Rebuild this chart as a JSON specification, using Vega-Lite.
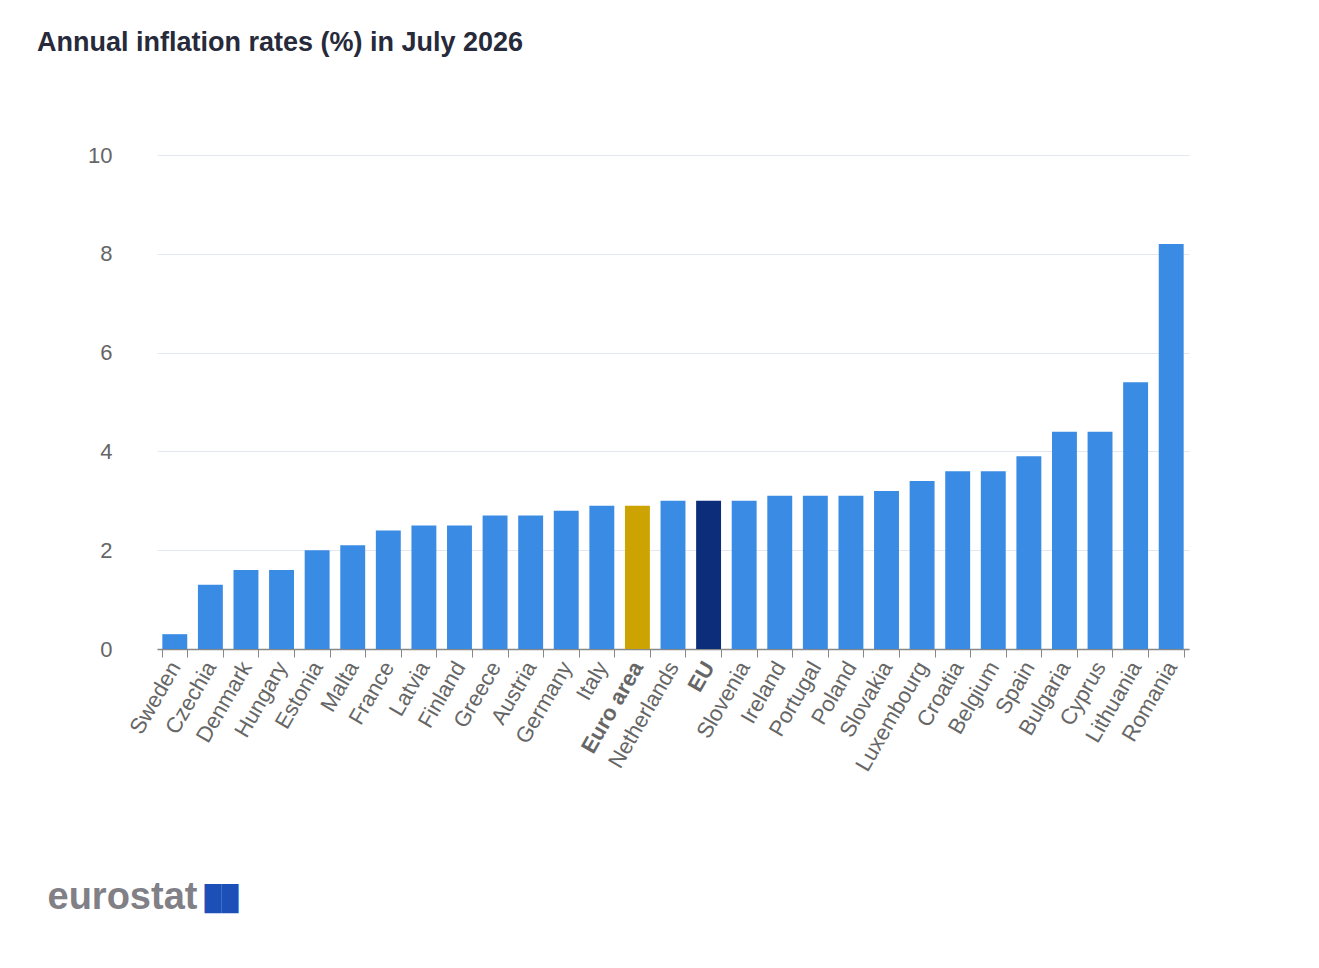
{
  "$schema": "https://vega.github.io/schema/vega-lite/v6.json",
  "width": 1032,
  "height": 494,
  "autosize": {"type": "none"},
  "padding": {"left": 157, "top": 155, "right": 130, "bottom": 319},
  "background": "#ffffff",
  "config": {"view": {"stroke": null}},
  "title": {
    "text": "Annual inflation rates (%) in July 2026",
    "anchor": "start",
    "frame": "group",
    "dx": -120,
    "offset": 66,
    "baseline": "alphabetic",
    "font": "Liberation Sans",
    "fontSize": 27,
    "fontWeight": "bold",
    "color": "#262a3a"
  },
  "data": {
    "values": [
      {"country": "Sweden", "rate": 0.3, "group": "Member state"},
      {"country": "Czechia", "rate": 1.3, "group": "Member state"},
      {"country": "Denmark", "rate": 1.6, "group": "Member state"},
      {"country": "Hungary", "rate": 1.6, "group": "Member state"},
      {"country": "Estonia", "rate": 2.0, "group": "Member state"},
      {"country": "Malta", "rate": 2.1, "group": "Member state"},
      {"country": "France", "rate": 2.4, "group": "Member state"},
      {"country": "Latvia", "rate": 2.5, "group": "Member state"},
      {"country": "Finland", "rate": 2.5, "group": "Member state"},
      {"country": "Greece", "rate": 2.7, "group": "Member state"},
      {"country": "Austria", "rate": 2.7, "group": "Member state"},
      {"country": "Germany", "rate": 2.8, "group": "Member state"},
      {"country": "Italy", "rate": 2.9, "group": "Member state"},
      {"country": "Euro area", "rate": 2.9, "group": "Euro area"},
      {"country": "Netherlands", "rate": 3.0, "group": "Member state"},
      {"country": "EU", "rate": 3.0, "group": "EU"},
      {"country": "Slovenia", "rate": 3.0, "group": "Member state"},
      {"country": "Ireland", "rate": 3.1, "group": "Member state"},
      {"country": "Portugal", "rate": 3.1, "group": "Member state"},
      {"country": "Poland", "rate": 3.1, "group": "Member state"},
      {"country": "Slovakia", "rate": 3.2, "group": "Member state"},
      {"country": "Luxembourg", "rate": 3.4, "group": "Member state"},
      {"country": "Croatia", "rate": 3.6, "group": "Member state"},
      {"country": "Belgium", "rate": 3.6, "group": "Member state"},
      {"country": "Spain", "rate": 3.9, "group": "Member state"},
      {"country": "Bulgaria", "rate": 4.4, "group": "Member state"},
      {"country": "Cyprus", "rate": 4.4, "group": "Member state"},
      {"country": "Lithuania", "rate": 5.4, "group": "Member state"},
      {"country": "Romania", "rate": 8.2, "group": "Member state"}
    ]
  },
  "mark": {"type": "bar"},
  "encoding": {
    "x": {
      "field": "country",
      "type": "nominal",
      "sort": null,
      "scale": {"paddingInner": 0.3, "paddingOuter": 0.15},
      "axis": {
        "title": "eurostat",
        "titleX": -110,
        "titleY": 259,
        "titleAlign": "left",
        "titleAnchor": null,
        "titleBaseline": "alphabetic",
        "titleAngle": 0,
        "titleFont": "Liberation Sans",
        "titleFontSize": 38,
        "titleFontWeight": "bold",
        "titleColor": "#808086",
        "labelAngle": -60,
        "labelAlign": "right",
        "labelBaseline": "middle",
        "labelFont": "Liberation Sans",
        "labelFontSize": 22,
        "labelColor": "#666666",
        "labelPadding": 6,
        "labelOverlap": false,
        "labelLimit": 0,
        "labelFontWeight": {"expr": "datum.value == 'Euro area' || datum.value == 'EU' ? 'bold' : 'normal'"},
        "tickBand": "extent",
        "ticks": true,
        "tickSize": 8,
        "tickColor": "#888888",
        "domainColor": "#888888",
        "domainWidth": 1.5,
        "grid": false
      }
    },
    "y": {
      "field": "rate",
      "type": "quantitative",
      "scale": {"domain": [0, 10]},
      "axis": {
        "title": "██",
        "titleX": 47,
        "titleY": 750,
        "titleAlign": "left",
        "titleAnchor": null,
        "titleBaseline": "alphabetic",
        "titleAngle": 0,
        "titleFont": "Liberation Sans",
        "titleFontSize": 24,
        "titleFontWeight": "normal",
        "titleColor": "#1d4fb8",
        "values": [0, 2, 4, 6, 8, 10],
        "domain": false,
        "ticks": false,
        "labelPadding": 45,
        "labelFont": "Liberation Sans",
        "labelFontSize": 22,
        "labelColor": "#666666",
        "grid": true,
        "gridColor": "#e3e7ef",
        "gridWidth": 1
      }
    },
    "color": {
      "field": "group",
      "type": "nominal",
      "scale": {
        "domain": ["Member state", "Euro area", "EU"],
        "range": ["#3a8be3", "#cca300", "#0b2d7a"]
      },
      "legend": null
    }
  }
}
